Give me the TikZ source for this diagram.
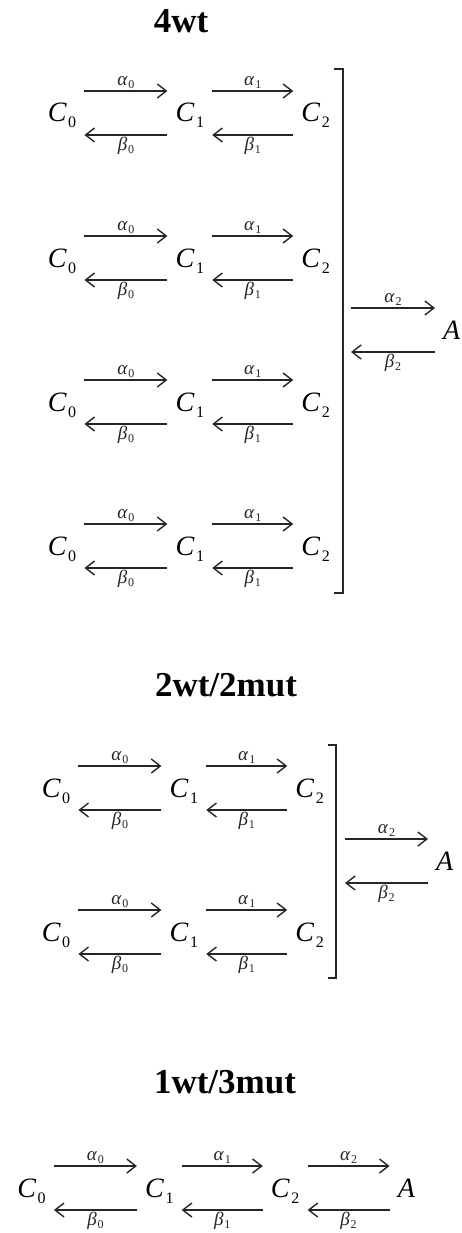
\documentclass[tikz,border=0pt]{standalone}
\usepackage{fontspec}
\setmainfont{Liberation Serif}
\usetikzlibrary{arrows.meta, positioning}

\newcommand{\spec}[2]{\textit{#1}\kern1.5pt\raisebox{-6pt}{\fontsize{16}{16}\selectfont #2}}
\newcommand{\kin}[2]{\textit{#1}\kern0.8pt\raisebox{-3pt}{\fontsize{12}{12}\selectfont #2}}

\begin{document}
\begin{tikzpicture}[
    x=1pt, y=-1pt,
    state/.style={font=\fontsize{28}{30}\selectfont, inner xsep=8pt, inner ysep=0pt, text height=24pt, text depth=6pt},
    title/.style={font=\fontsize{35}{37}\selectfont\bfseries, anchor=base},
    fwd/.style={-{Straight Barb[length=9pt, width=14pt]}, line width=1.4pt, black!85},
    rate/.style={font=\fontsize{19}{20}\selectfont, inner sep=1.5pt},
    bracket/.style={line width=1.4pt, black!85}
]
\useasboundingbox (0,0) rectangle (461,1233);

% Section 1: 4wt
\node[title] (t1) at (181,33) {4wt};

\node[state] (s1_a0) at (62,113) {\spec{C}{0}};
\node[state, right=83pt of s1_a0] (s1_a1) {\spec{C}{1}};
\node[state, right=81pt of s1_a1] (s1_a2) {\spec{C}{2}};

\node[state] (s1_b0) at (62,258) {\spec{C}{0}};
\node[state, right=83pt of s1_b0] (s1_b1) {\spec{C}{1}};
\node[state, right=81pt of s1_b1] (s1_b2) {\spec{C}{2}};

\node[state] (s1_c0) at (62,402) {\spec{C}{0}};
\node[state, right=83pt of s1_c0] (s1_c1) {\spec{C}{1}};
\node[state, right=81pt of s1_c1] (s1_c2) {\spec{C}{2}};

\node[state] (s1_d0) at (62,546) {\spec{C}{0}};
\node[state, right=83pt of s1_d0] (s1_d1) {\spec{C}{1}};
\node[state, right=81pt of s1_d1] (s1_d2) {\spec{C}{2}};

\draw[bracket] (334,69) -| (343,593) -- (334,593);
\coordinate (s1_j) at (343,330);
\node[state, right=92pt of s1_j] (s1_A) {\textit{A}};

\draw[fwd] ([yshift=22pt]s1_a0.east) -- node[rate, above] {\kin{α}{0}} ([yshift=22pt]s1_a1.west);
\draw[fwd] ([yshift=-22pt]s1_a1.west) -- node[rate, below] {\kin{β}{0}} ([yshift=-22pt]s1_a0.east);
\draw[fwd] ([yshift=22pt]s1_a1.east) -- node[rate, above] {\kin{α}{1}} ([yshift=22pt]s1_a2.west);
\draw[fwd] ([yshift=-22pt]s1_a2.west) -- node[rate, below] {\kin{β}{1}} ([yshift=-22pt]s1_a1.east);

\draw[fwd] ([yshift=22pt]s1_b0.east) -- node[rate, above] {\kin{α}{0}} ([yshift=22pt]s1_b1.west);
\draw[fwd] ([yshift=-22pt]s1_b1.west) -- node[rate, below] {\kin{β}{0}} ([yshift=-22pt]s1_b0.east);
\draw[fwd] ([yshift=22pt]s1_b1.east) -- node[rate, above] {\kin{α}{1}} ([yshift=22pt]s1_b2.west);
\draw[fwd] ([yshift=-22pt]s1_b2.west) -- node[rate, below] {\kin{β}{1}} ([yshift=-22pt]s1_b1.east);

\draw[fwd] ([yshift=22pt]s1_c0.east) -- node[rate, above] {\kin{α}{0}} ([yshift=22pt]s1_c1.west);
\draw[fwd] ([yshift=-22pt]s1_c1.west) -- node[rate, below] {\kin{β}{0}} ([yshift=-22pt]s1_c0.east);
\draw[fwd] ([yshift=22pt]s1_c1.east) -- node[rate, above] {\kin{α}{1}} ([yshift=22pt]s1_c2.west);
\draw[fwd] ([yshift=-22pt]s1_c2.west) -- node[rate, below] {\kin{β}{1}} ([yshift=-22pt]s1_c1.east);

\draw[fwd] ([yshift=22pt]s1_d0.east) -- node[rate, above] {\kin{α}{0}} ([yshift=22pt]s1_d1.west);
\draw[fwd] ([yshift=-22pt]s1_d1.west) -- node[rate, below] {\kin{β}{0}} ([yshift=-22pt]s1_d0.east);
\draw[fwd] ([yshift=22pt]s1_d1.east) -- node[rate, above] {\kin{α}{1}} ([yshift=22pt]s1_d2.west);
\draw[fwd] ([yshift=-22pt]s1_d2.west) -- node[rate, below] {\kin{β}{1}} ([yshift=-22pt]s1_d1.east);

\draw[fwd] ([xshift=8pt, yshift=22pt]s1_j) -- node[rate, above] {\kin{α}{2}} ([yshift=22pt]s1_A.west);
\draw[fwd] ([yshift=-22pt]s1_A.west) -- node[rate, below] {\kin{β}{2}} ([xshift=8pt, yshift=-22pt]s1_j);

% Section 2: 2wt/2mut
\node[title] (t2) at (226,696) {2wt/2mut};

\node[state] (s2_a0) at (56,788) {\spec{C}{0}};
\node[state, right=83pt of s2_a0] (s2_a1) {\spec{C}{1}};
\node[state, right=81pt of s2_a1] (s2_a2) {\spec{C}{2}};

\node[state] (s2_b0) at (56,932) {\spec{C}{0}};
\node[state, right=83pt of s2_b0] (s2_b1) {\spec{C}{1}};
\node[state, right=81pt of s2_b1] (s2_b2) {\spec{C}{2}};

\draw[bracket] (328,745) -| (336,978) -- (328,978);
\coordinate (s2_j) at (336,861);
\node[state, right=92pt of s2_j] (s2_A) {\textit{A}};

\draw[fwd] ([yshift=22pt]s2_a0.east) -- node[rate, above] {\kin{α}{0}} ([yshift=22pt]s2_a1.west);
\draw[fwd] ([yshift=-22pt]s2_a1.west) -- node[rate, below] {\kin{β}{0}} ([yshift=-22pt]s2_a0.east);
\draw[fwd] ([yshift=22pt]s2_a1.east) -- node[rate, above] {\kin{α}{1}} ([yshift=22pt]s2_a2.west);
\draw[fwd] ([yshift=-22pt]s2_a2.west) -- node[rate, below] {\kin{β}{1}} ([yshift=-22pt]s2_a1.east);

\draw[fwd] ([yshift=22pt]s2_b0.east) -- node[rate, above] {\kin{α}{0}} ([yshift=22pt]s2_b1.west);
\draw[fwd] ([yshift=-22pt]s2_b1.west) -- node[rate, below] {\kin{β}{0}} ([yshift=-22pt]s2_b0.east);
\draw[fwd] ([yshift=22pt]s2_b1.east) -- node[rate, above] {\kin{α}{1}} ([yshift=22pt]s2_b2.west);
\draw[fwd] ([yshift=-22pt]s2_b2.west) -- node[rate, below] {\kin{β}{1}} ([yshift=-22pt]s2_b1.east);

\draw[fwd] ([xshift=9pt, yshift=22pt]s2_j) -- node[rate, above] {\kin{α}{2}} ([yshift=22pt]s2_A.west);
\draw[fwd] ([yshift=-22pt]s2_A.west) -- node[rate, below] {\kin{β}{2}} ([xshift=9pt, yshift=-22pt]s2_j);

% Section 3: 1wt/3mut
\node[title] (t3) at (225,1093) {1wt/3mut};

\node[state] (s3_a0) at (31.5,1188) {\spec{C}{0}};
\node[state, right=83pt of s3_a0] (s3_a1) {\spec{C}{1}};
\node[state, right=81pt of s3_a1] (s3_a2) {\spec{C}{2}};
\node[state, right=82pt of s3_a2] (s3_A) {\textit{A}};

\draw[fwd] ([yshift=22pt]s3_a0.east) -- node[rate, above] {\kin{α}{0}} ([yshift=22pt]s3_a1.west);
\draw[fwd] ([yshift=-22pt]s3_a1.west) -- node[rate, below] {\kin{β}{0}} ([yshift=-22pt]s3_a0.east);
\draw[fwd] ([yshift=22pt]s3_a1.east) -- node[rate, above] {\kin{α}{1}} ([yshift=22pt]s3_a2.west);
\draw[fwd] ([yshift=-22pt]s3_a2.west) -- node[rate, below] {\kin{β}{1}} ([yshift=-22pt]s3_a1.east);
\draw[fwd] ([yshift=22pt]s3_a2.east) -- node[rate, above] {\kin{α}{2}} ([yshift=22pt]s3_A.west);
\draw[fwd] ([yshift=-22pt]s3_A.west) -- node[rate, below] {\kin{β}{2}} ([yshift=-22pt]s3_a2.east);

\end{tikzpicture}
\end{document}
